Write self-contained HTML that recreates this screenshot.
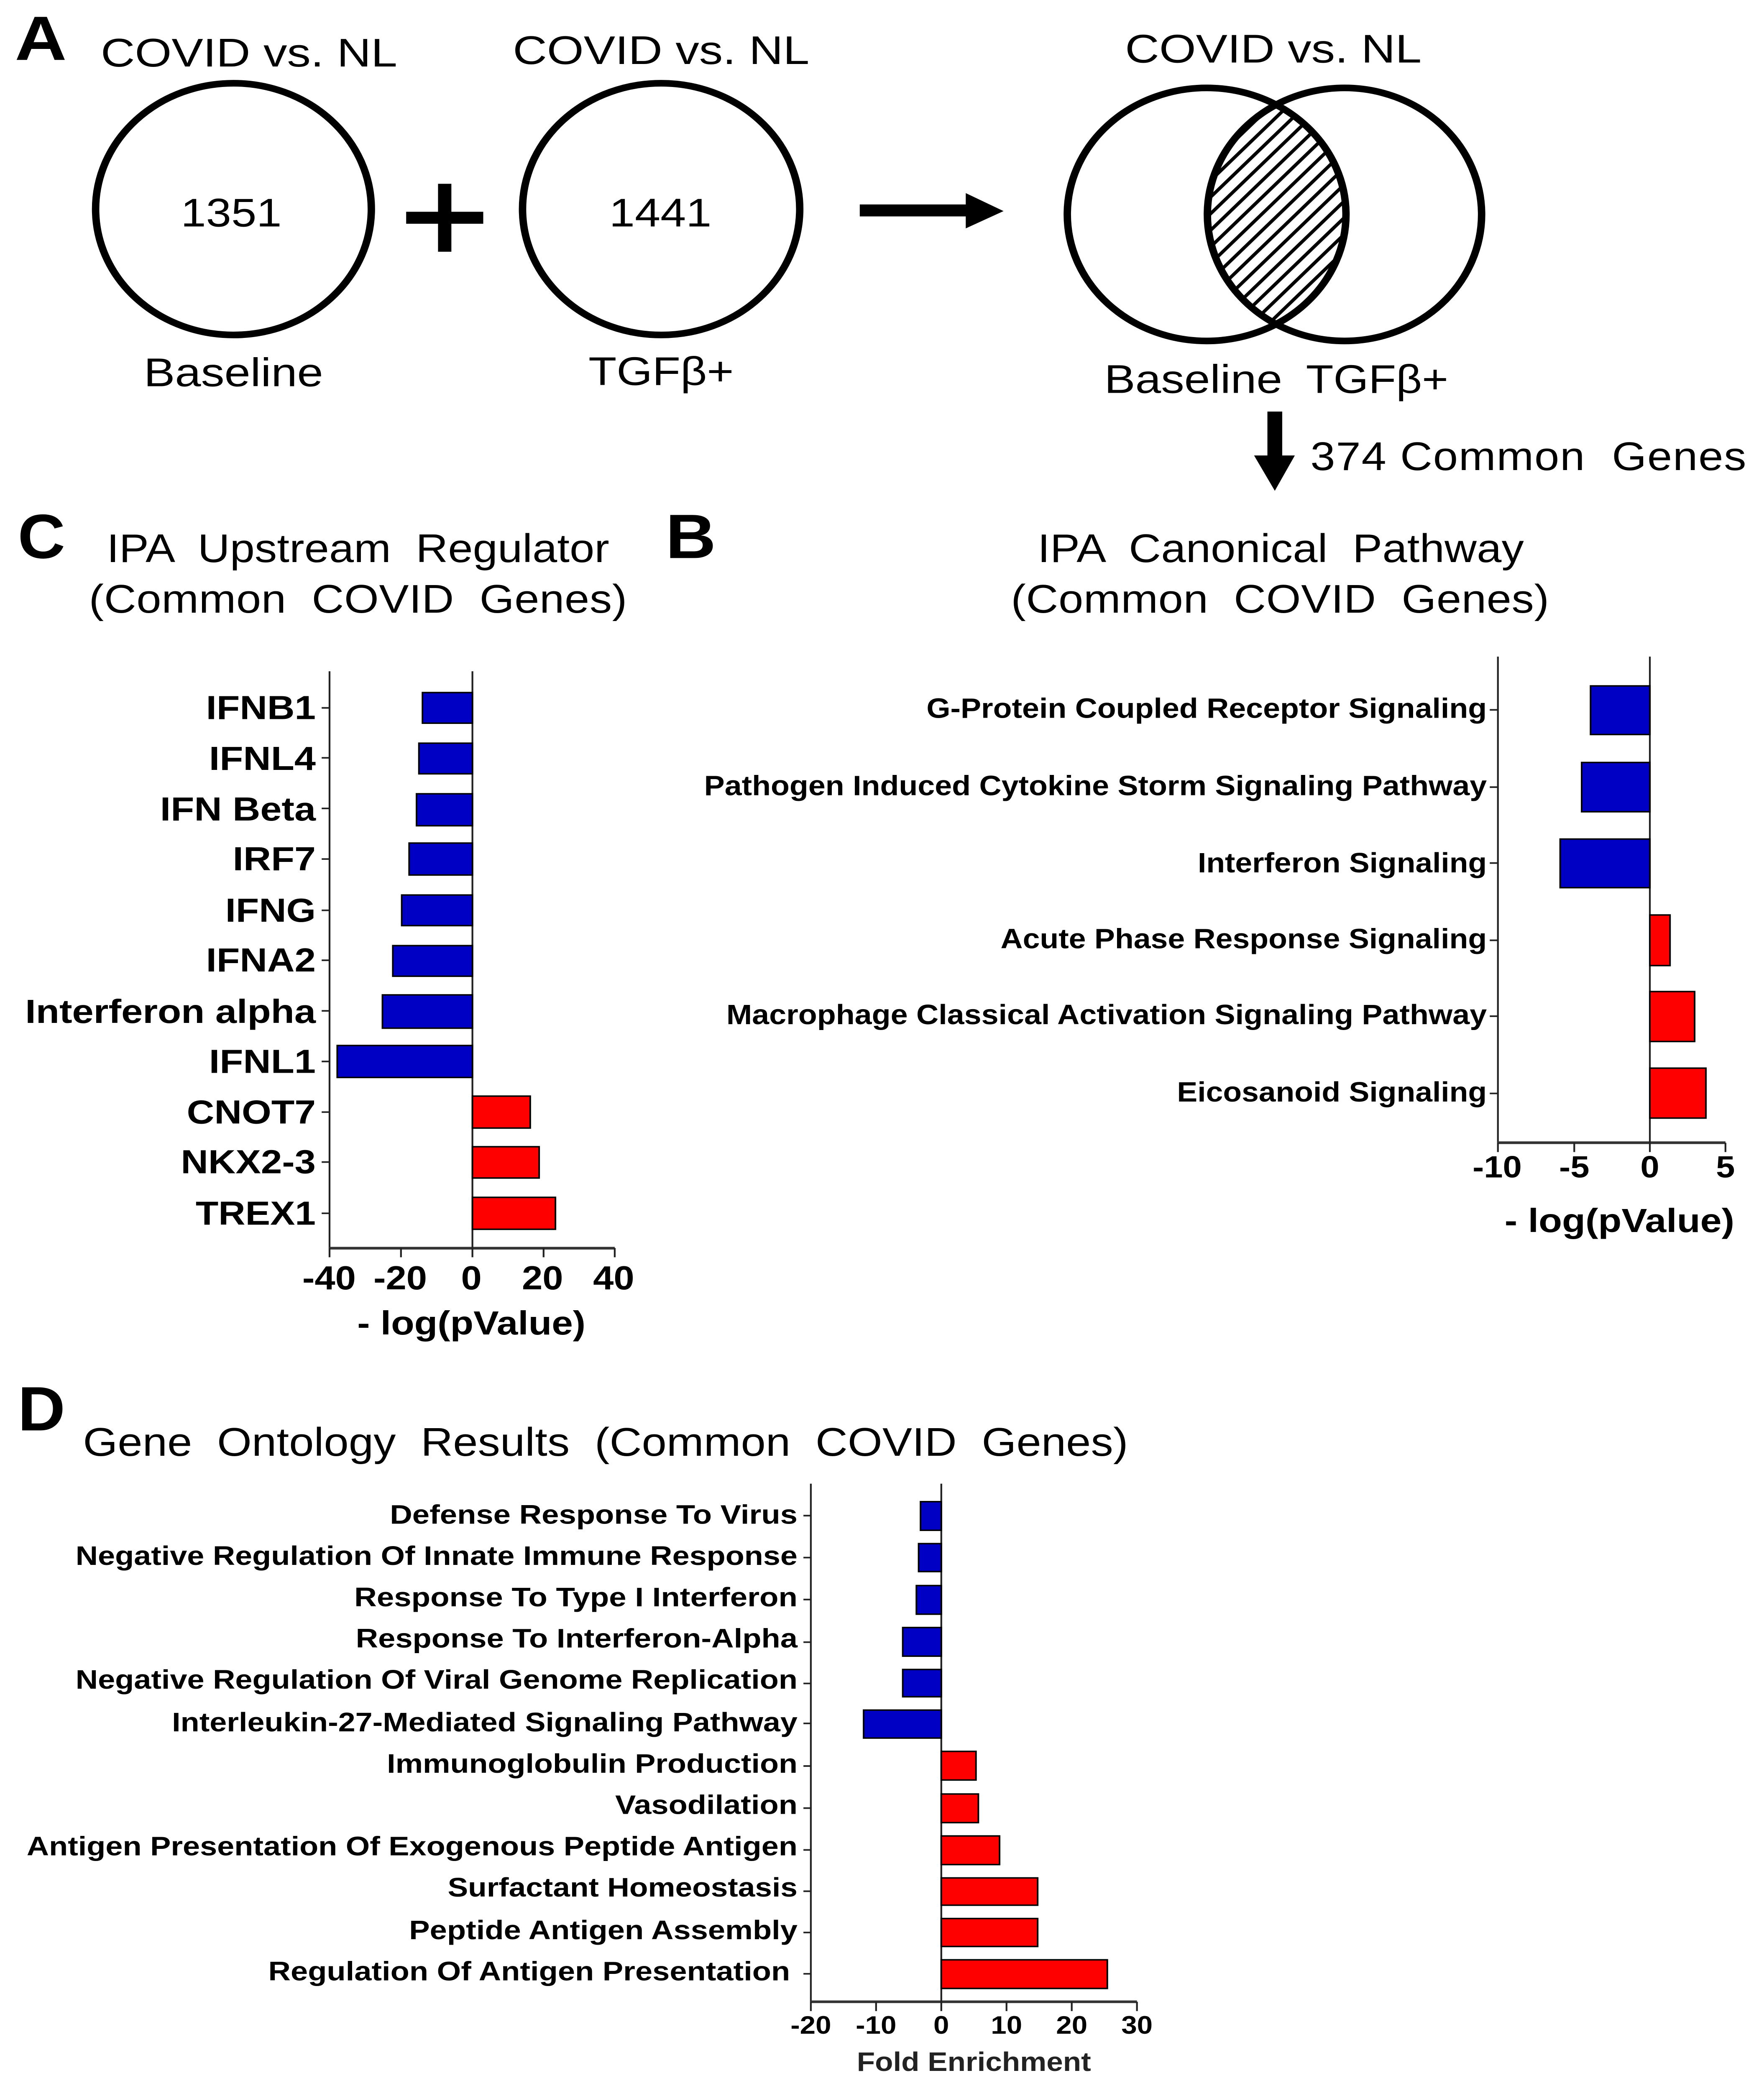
<!DOCTYPE html>
<html><head><meta charset="utf-8"><title>COVID common genes figure</title>
<style>
html,body{margin:0;padding:0;background:#fff;width:100vw;height:100vh;overflow:hidden}
svg{display:block;width:100vw;height:100vh}
text{font-family:"Liberation Sans",sans-serif;fill:#000;white-space:pre}
.l{font-size:30px}
.p{font-size:47px;font-weight:bold}
.c{font-size:25px;font-weight:bold}
.b{font-size:21px;font-weight:bold}
.d{font-size:20px;font-weight:bold}
.tc{text-anchor:middle;font-size:25px;font-weight:bold}
.tb{text-anchor:middle;font-size:23px;font-weight:bold}
.td{text-anchor:middle;font-size:19px;font-weight:bold}
.blue{fill:#0000c4;stroke:#000;stroke-width:1.1}
.red{fill:#ff0000;stroke:#000;stroke-width:1.1}
.ax{stroke:#222;stroke-width:1.2;fill:none}
.xa{stroke:#333;stroke-width:2;fill:none}
</style></head><body>
<svg viewBox="0 0 1190 1570" preserveAspectRatio="none" xmlns="http://www.w3.org/2000/svg">
<defs>
<pattern id="h" width="8.5" height="8.5" patternUnits="userSpaceOnUse" patternTransform="rotate(43)"><line x1="1.2" y1="0" x2="1.2" y2="8.5" stroke="#000" stroke-width="2.4"/></pattern>
<clipPath id="cl"><ellipse cx="814" cy="161" rx="94" ry="95"/></clipPath>
</defs>
<rect width="1190" height="1570" fill="#fff"/>

<!-- Panel A -->
<text class="p" x="10" y="45" textLength="35" lengthAdjust="spacingAndGlyphs">A</text>
<text class="l" x="68" y="50" textLength="200" lengthAdjust="spacingAndGlyphs">COVID vs. NL</text>
<text class="l" x="346" y="48" textLength="200" lengthAdjust="spacingAndGlyphs">COVID vs. NL</text>
<text class="l" x="759" y="47" textLength="200" lengthAdjust="spacingAndGlyphs">COVID vs. NL</text>
<ellipse cx="157.5" cy="157" rx="93" ry="94.5" fill="none" stroke="#000" stroke-width="5"/>
<ellipse cx="446" cy="157" rx="93.5" ry="94.5" fill="none" stroke="#000" stroke-width="5"/>
<text class="l" x="122" y="170" textLength="68" lengthAdjust="spacingAndGlyphs">1351</text>
<text class="l" x="411" y="170" textLength="69" lengthAdjust="spacingAndGlyphs">1441</text>
<text class="l" x="97" y="290" textLength="121" lengthAdjust="spacingAndGlyphs">Baseline</text>
<text class="l" x="397" y="289" textLength="98" lengthAdjust="spacingAndGlyphs">TGFβ+</text>
<rect x="295.5" y="138" width="9" height="51"/><rect x="274" y="159" width="52" height="9"/>
<polygon points="580,153.5 651.5,153.5 651.5,145 677,158.5 651.5,171.5 651.5,162.5 580,162.5"/>
<ellipse cx="907" cy="161" rx="92.5" ry="95" fill="url(#h)" clip-path="url(#cl)"/>
<ellipse cx="814" cy="161" rx="94" ry="95" fill="none" stroke="#000" stroke-width="5"/>
<ellipse cx="907" cy="161" rx="92.5" ry="95" fill="none" stroke="#000" stroke-width="5"/>
<text class="l" x="745" y="295" textLength="120" lengthAdjust="spacingAndGlyphs">Baseline</text>
<text class="l" x="881" y="295" textLength="96" lengthAdjust="spacingAndGlyphs">TGFβ+</text>
<polygon points="855,309 865,309 865,342 873.5,342 860,368.5 846,342 855,342"/>
<text class="l" x="884" y="353" textLength="294" lengthAdjust="spacing">374 Common  Genes</text>

<!-- Panel C -->
<text class="p" x="12" y="419" textLength="32" lengthAdjust="spacingAndGlyphs">C</text>
<text class="l" x="72" y="422" textLength="339" lengthAdjust="spacing">IPA  Upstream  Regulator</text>
<text class="l" x="60" y="460" textLength="363" lengthAdjust="spacing">(Common  COVID  Genes)</text>
<path class="ax" d="M222.3 504V937M217 531.5H222M217 569H222M217 607H222M217 645H222M217 683.5H222M217 721H222M217 759H222M217 797H222M217 835H222M217 872.5H222M217 911H222"/>
<path class="xa" d="M222 937.2H414.7"/>
<path class="ax" d="M222.3 937V944M270.5 937V944M318.7 937V944M366.7 937V944M414.7 937V944M318.7 504V937"/>
<rect class="blue" x="285" y="520" width="33.7" height="23"/>
<rect class="blue" x="282.6" y="558" width="36.1" height="23"/>
<rect class="blue" x="281" y="596" width="37.7" height="24"/>
<rect class="blue" x="276" y="633" width="42.7" height="24"/>
<rect class="blue" x="271" y="672" width="47.7" height="23"/>
<rect class="blue" x="265" y="710" width="53.7" height="23"/>
<rect class="blue" x="258" y="747" width="60.7" height="25"/>
<rect class="blue" x="227.5" y="785" width="91.2" height="24"/>
<rect class="red" x="318.7" y="823" width="39" height="24"/>
<rect class="red" x="318.7" y="861" width="45" height="23.5"/>
<rect class="red" x="318.7" y="899" width="56" height="24"/>
<text class="c" x="139" y="540" textLength="74" lengthAdjust="spacingAndGlyphs">IFNB1</text>
<text class="c" x="141" y="578" textLength="72" lengthAdjust="spacingAndGlyphs">IFNL4</text>
<text class="c" x="108" y="616" textLength="105" lengthAdjust="spacingAndGlyphs">IFN Beta</text>
<text class="c" x="157" y="653.5" textLength="56" lengthAdjust="spacingAndGlyphs">IRF7</text>
<text class="c" x="152" y="692" textLength="61" lengthAdjust="spacingAndGlyphs">IFNG</text>
<text class="c" x="139" y="729.5" textLength="74" lengthAdjust="spacingAndGlyphs">IFNA2</text>
<text class="c" x="17" y="768" textLength="196" lengthAdjust="spacingAndGlyphs">Interferon alpha</text>
<text class="c" x="141" y="805.5" textLength="72" lengthAdjust="spacingAndGlyphs">IFNL1</text>
<text class="c" x="126" y="843.5" textLength="87" lengthAdjust="spacingAndGlyphs">CNOT7</text>
<text class="c" x="122" y="881" textLength="91" lengthAdjust="spacingAndGlyphs">NKX2-3</text>
<text class="c" x="132" y="919.5" textLength="81" lengthAdjust="spacingAndGlyphs">TREX1</text>
<text class="tc" x="222" y="968">-40</text><text class="tc" x="270" y="968">-20</text><text class="tc" x="318" y="968">0</text><text class="tc" x="366" y="968">20</text><text class="tc" x="414" y="968">40</text>
<text class="c" x="241" y="1002" textLength="154" lengthAdjust="spacingAndGlyphs">- log(pValue)</text>

<!-- Panel B -->
<text class="p" x="449" y="419" textLength="34" lengthAdjust="spacingAndGlyphs">B</text>
<text class="l" x="700" y="422" textLength="328" lengthAdjust="spacing">IPA  Canonical  Pathway</text>
<text class="l" x="682" y="460" textLength="363" lengthAdjust="spacing">(Common  COVID  Genes)</text>
<path class="ax" d="M1010.5 493V858M1005 533H1010.5M1005 591H1010.5M1005 648H1010.5M1005 706H1010.5M1005 763H1010.5M1005 821H1010.5"/>
<path class="xa" d="M1010 858H1164"/>
<path class="ax" d="M1010.5 858V865M1062 858V865M1113 858V865M1164 858V865M1113 493V858"/>
<rect class="blue" x="1073" y="515" width="40" height="36.5"/>
<rect class="blue" x="1067" y="572.5" width="46" height="37"/>
<rect class="blue" x="1052.5" y="630" width="60.5" height="36.5"/>
<rect class="red" x="1113" y="687" width="13.6" height="38"/>
<rect class="red" x="1113" y="744.5" width="30.2" height="37.5"/>
<rect class="red" x="1113" y="802" width="37.8" height="37.5"/>
<text class="b" x="625" y="539" textLength="378" lengthAdjust="spacingAndGlyphs">G-Protein Coupled Receptor Signaling</text>
<text class="b" x="475" y="597" textLength="528" lengthAdjust="spacingAndGlyphs">Pathogen Induced Cytokine Storm Signaling Pathway</text>
<text class="b" x="808" y="655" textLength="195" lengthAdjust="spacingAndGlyphs">Interferon Signaling</text>
<text class="b" x="675" y="712" textLength="328" lengthAdjust="spacingAndGlyphs">Acute Phase Response Signaling</text>
<text class="b" x="490" y="769" textLength="513" lengthAdjust="spacingAndGlyphs">Macrophage Classical Activation Signaling Pathway</text>
<text class="b" x="794" y="827" textLength="209" lengthAdjust="spacingAndGlyphs">Eicosanoid Signaling</text>
<text class="tb" x="1010" y="884">-10</text><text class="tb" x="1062" y="884">-5</text><text class="tb" x="1113" y="884">0</text><text class="tb" x="1164" y="884">5</text>
<text class="c" x="1015" y="925" textLength="155" lengthAdjust="spacingAndGlyphs">- log(pValue)</text>

<!-- Panel D -->
<text class="p" x="12" y="1074" textLength="32" lengthAdjust="spacingAndGlyphs">D</text>
<text class="l" x="56" y="1093" textLength="705" lengthAdjust="spacing">Gene  Ontology  Results  (Common  COVID  Genes)</text>
<path class="ax" d="M547 1114V1503M542 1138H547M542 1169.5H547M542 1201H547M542 1233H547M542 1264H547M542 1294H547M542 1326H547M542 1357.6H547M542 1389H547M542 1420H547M542 1451H547M542 1482H547"/>
<path class="xa" d="M547 1503H767"/>
<path class="ax" d="M547 1503V1510M591 1503V1510M635 1503V1510M679 1503V1510M723 1503V1510M767 1503V1510M635 1114V1503"/>
<rect class="blue" x="621" y="1127.5" width="14" height="21.5"/>
<rect class="blue" x="619.7" y="1159" width="15.3" height="21"/>
<rect class="blue" x="618.2" y="1190.5" width="16.8" height="21.5"/>
<rect class="blue" x="609" y="1222" width="26" height="21.5"/>
<rect class="blue" x="609" y="1253.5" width="26" height="20.5"/>
<rect class="blue" x="582.6" y="1284" width="52.4" height="21"/>
<rect class="red" x="635" y="1315" width="23.4" height="21.5"/>
<rect class="red" x="635" y="1347" width="25" height="21.5"/>
<rect class="red" x="635" y="1378.5" width="39.3" height="21.5"/>
<rect class="red" x="635" y="1410" width="65" height="20.5"/>
<rect class="red" x="635" y="1440.5" width="65" height="21"/>
<rect class="red" x="635" y="1471.5" width="112" height="21.5"/>
<text class="d" x="263" y="1144" textLength="275" lengthAdjust="spacingAndGlyphs">Defense Response To Virus</text>
<text class="d" x="51" y="1175" textLength="487" lengthAdjust="spacingAndGlyphs">Negative Regulation Of Innate Immune Response</text>
<text class="d" x="239" y="1206" textLength="299" lengthAdjust="spacingAndGlyphs">Response To Type I Interferon</text>
<text class="d" x="240" y="1237" textLength="298" lengthAdjust="spacingAndGlyphs">Response To Interferon-Alpha</text>
<text class="d" x="51" y="1268" textLength="487" lengthAdjust="spacingAndGlyphs">Negative Regulation Of Viral Genome Replication</text>
<text class="d" x="116" y="1300" textLength="422" lengthAdjust="spacingAndGlyphs">Interleukin-27-Mediated Signaling Pathway</text>
<text class="d" x="261" y="1331" textLength="277" lengthAdjust="spacingAndGlyphs">Immunoglobulin Production</text>
<text class="d" x="415" y="1362" textLength="123" lengthAdjust="spacingAndGlyphs">Vasodilation</text>
<text class="d" x="18" y="1393" textLength="520" lengthAdjust="spacingAndGlyphs">Antigen Presentation Of Exogenous Peptide Antigen</text>
<text class="d" x="302" y="1424" textLength="236" lengthAdjust="spacingAndGlyphs">Surfactant Homeostasis</text>
<text class="d" x="276" y="1456" textLength="262" lengthAdjust="spacingAndGlyphs">Peptide Antigen Assembly</text>
<text class="d" x="181" y="1487" textLength="352" lengthAdjust="spacingAndGlyphs">Regulation Of Antigen Presentation</text>
<text class="td" x="547" y="1527">-20</text><text class="td" x="591" y="1527">-10</text><text class="td" x="635" y="1527">0</text><text class="td" x="679" y="1527">10</text><text class="td" x="723" y="1527">20</text><text class="td" x="767" y="1527">30</text>
<text class="d" x="578" y="1555" textLength="158" lengthAdjust="spacingAndGlyphs" style="fill:#222">Fold Enrichment</text>
</svg>
</body></html>
